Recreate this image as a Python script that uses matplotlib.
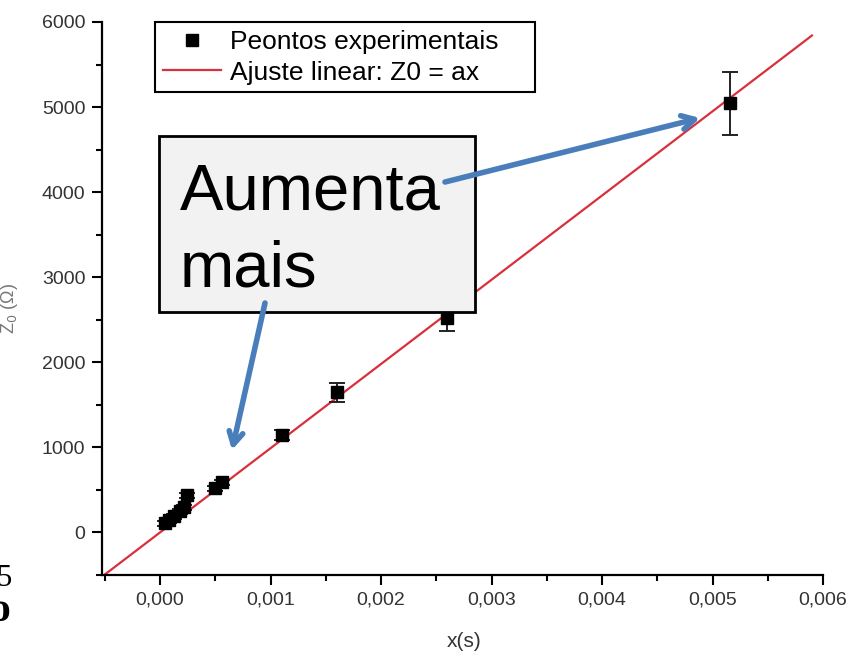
import numpy as np
import matplotlib
matplotlib.use('Agg')
import matplotlib.pyplot as plt
from matplotlib.patches import Rectangle
from matplotlib.ticker import FuncFormatter, MultipleLocator

plt.rcParams['font.family'] = ['Liberation Sans', 'DejaVu Sans']

x_pts = [0.000045, 0.00008, 0.000127, 0.00018, 0.00022, 0.000244,
         0.0005, 0.00056, 0.0011, 0.0016, 0.0026, 0.00516]
z_pts = [106, 141, 188, 247, 294, 435, 518, 588, 1141, 1647, 2518, 5047]
z_err = [25, 25, 25, 25, 25, 25, 30, 30, 60, 110, 150, 370]

# linear fit Z0 = a*x
a_fit = 990000.0
x_fit = np.array([-0.0006, 0.0059])

fig = plt.figure(figsize=(8.56, 6.57), dpi=100)
ax = fig.add_axes([102/856, 82/657, 721/856, 553/657])

line_col = '#d8303c'
ax.plot(x_fit, a_fit*x_fit, color=line_col, lw=1.6, zorder=2,
        label='Ajuste linear: Z0 = ax')
ax.errorbar(x_pts, z_pts, yerr=z_err, fmt='none', ecolor='#222222',
            elinewidth=1.4, capsize=6, capthick=1.4, zorder=3)
ax.plot(x_pts, z_pts, 's', color='black', ms=9, zorder=4,
        label='Peontos experimentais')

ax.set_xlim(-0.000525, 0.006)
ax.set_ylim(-500, 6000)
ax.spines['top'].set_visible(False)
ax.spines['right'].set_visible(False)
for s in ['left', 'bottom']:
    ax.spines[s].set_linewidth(1.6)

ax.xaxis.set_major_locator(MultipleLocator(0.001))
ax.xaxis.set_minor_locator(MultipleLocator(0.0005))
ax.yaxis.set_major_locator(MultipleLocator(1000))
ax.yaxis.set_minor_locator(MultipleLocator(500))
ax.xaxis.set_major_formatter(FuncFormatter(lambda v, p: ('%.3f' % v).replace('.', ',')))
ax.tick_params(which='major', direction='out', length=7, width=1.5,
               labelsize=14, labelcolor='#333333', pad=5)
ax.tick_params(which='minor', direction='out', length=4, width=1.5)

ax.set_xlabel('x(s)', fontsize=15, color='#333333')
ax.xaxis.set_label_coords((464 - 102)/721, -(632 - 575)/553)

# y label mostly cut off at the left edge
fig.text(0.011, 0.53, 'Z$_0$ (Ω)', rotation=90, ha='center', va='center',
         fontsize=13, color='#777777')
# fragments of slide text at the bottom left
fig.text(-0.004, 0.108, '5', family='Liberation Serif', fontsize=22, color='black')
fig.text(-0.012, 0.055, 'o', family='Liberation Serif', fontsize=30,
         fontweight='bold', color='black')

h, l = ax.get_legend_handles_labels()
leg = ax.legend(h[::-1], l[::-1], loc='upper left', mode='expand',
                bbox_to_anchor=(155/856, 1 - 93/657, 380/856, 71/657),
                bbox_transform=fig.transFigure, borderaxespad=0,
                fontsize=19, frameon=True, fancybox=False, framealpha=1,
                handlelength=2.2, handletextpad=0.35, labelspacing=0.25,
                borderpad=0.3, markerscale=0.9)
leg.get_frame().set_edgecolor('black')
leg.get_frame().set_linewidth(1.5)

# callout box
box = Rectangle((159/856, 1 - 312/657), 316/856, 176/657,
                transform=fig.transFigure, facecolor='#f2f2f2',
                edgecolor='black', lw=2, zorder=5)
fig.patches.append(box)
fig.text(180/856, 1 - 210/657, 'Aumenta', fontsize=47, color='black',
         va='baseline', ha='left', zorder=6)
fig.text(180/856, 1 - 287/657, 'mais', fontsize=47, color='black',
         va='baseline', ha='left', zorder=6)

arrow_col = '#4a7ebb'
arr = dict(arrowstyle='->,head_length=0.9,head_width=0.5', color=arrow_col,
           lw=4, shrinkA=0, shrinkB=0)
fig_ann1 = ax.annotate('', xy=(700/856, 1 - 118/657), xytext=(445/856, 1 - 182/657),
                       xycoords='figure fraction', textcoords='figure fraction',
                       arrowprops=arr, zorder=7, annotation_clip=False)
fig_ann2 = ax.annotate('', xy=(232/856, 1 - 450/657), xytext=(265/856, 1 - 303/657),
                       xycoords='figure fraction', textcoords='figure fraction',
                       arrowprops=arr, zorder=7, annotation_clip=False)
# arrows must sit above the callout box, which is a figure artist
fig_ann1.remove(); fig_ann2.remove()
fig.add_artist(fig_ann1); fig.add_artist(fig_ann2)

fig.savefig('out.png', dpi=100)
